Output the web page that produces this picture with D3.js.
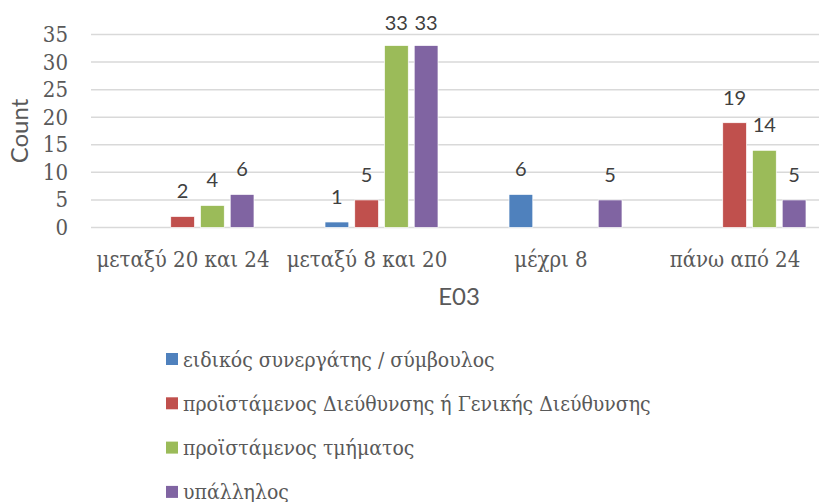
<!DOCTYPE html>
<html lang="el">
<head>
    <meta charset="utf-8" />
    <title>E03 Count</title>
    <script src="https://d3js.org/d3.v7.min.js"></script>
    <style>
        body { margin: 0; background: #fff; }
        svg { display: block; }
    </style>
</head>
<body>
    <script>
        // data
        const categories = ["μεταξύ 20 και 24", "μεταξύ 8 και 20", "μέχρι 8", "πάνω από 24"];
        const seriesNames = [
            "ειδικός συνεργάτης / σύμβουλος",
            "προϊστάμενος Διεύθυνσης ή Γενικής Διεύθυνσης",
            "προϊστάμενος τμήματος",
            "υπάλληλος"
        ];
        // null = no bar / no label
        const seriesValues = [
            [null, 1, 6, null],
            [2, 5, null, 19],
            [4, 33, null, 14],
            [6, 33, 5, 5]
        ];
        const yTicks = [0, 5, 10, 15, 20, 25, 30, 35];
        const colors = ["#4f81bd", "#c0504d", "#9bbb59", "#8064a2"];

        const width = 819, height = 502;
        // Cambria / Calibri stand-ins
        const serif = "DejaVu Serif Condensed";
        const sans = "Lato";
        const textColor = "#595959";

        const svg = d3.select("body")
            .append("svg")
            .attr("width", width)
            .attr("height", height);

        // scales
        const xScale = d3.scaleBand()
            .domain(categories)
            .range([91, 827]);

        const yScale = d3.scaleLinear()
            .domain([0, 35])
            .range([227.5, 34.5]);

        const inner = d3.scaleBand()
            .domain(d3.range(seriesNames.length))
            .range([0, 113])
            .paddingInner(0.2);

        // gridlines
        svg.append("g")
            .selectAll("line")
            .data(yTicks)
            .enter()
            .append("line")
            .attr("x1", 91)
            .attr("x2", width)
            .attr("y1", d => yScale(d))
            .attr("y2", d => yScale(d))
            .attr("stroke", "#d9d9d9")
            .attr("stroke-width", 1.5);

        // y axis
        const yAxis = d3.axisLeft(yScale).tickValues(yTicks).tickSize(0).tickPadding(0);
        const gy = svg.append("g")
            .attr("transform", "translate(68,0)")
            .call(yAxis);
        gy.select(".domain").remove();
        gy.selectAll("text")
            .attr("font-family", serif)
            .attr("font-size", 22)
            .attr("fill", textColor);

        // x axis
        const xAxis = d3.axisBottom(xScale).tickSize(0).tickPadding(0);
        const gx = svg.append("g")
            .attr("transform", "translate(0,227.5)")
            .call(xAxis);
        gx.select(".domain").remove();
        gx.selectAll("text")
            .attr("dy", null)
            .attr("y", 39)
            .attr("font-family", serif)
            .attr("font-size", 22)
            .attr("fill", textColor);

        // bars (the cluster sits a little right of the category centre)
        const groups = svg.selectAll(".series")
            .data(seriesValues)
            .enter()
            .append("g")
            .attr("class", "series");

        const groupLeft = c => xScale(c) + xScale.bandwidth() / 2 - 113 / 2 + 14.5;

        groups.each(function (vals, s) {
            const pts = categories.map((c, i) => ({ c: c, v: vals[i] })).filter(d => d.v !== null);
            const g = d3.select(this);
            g.selectAll("rect")
                .data(pts)
                .enter()
                .append("rect")
                .attr("x", d => groupLeft(d.c) + inner(s))
                .attr("y", d => yScale(d.v))
                .attr("width", inner.bandwidth())
                .attr("height", d => yScale(0) - yScale(d.v))
                .attr("fill", colors[s])
                .attr("stroke", "#fff")
                .attr("stroke-width", 0.7);
            g.selectAll("text")
                .data(pts)
                .enter()
                .append("text")
                .attr("x", d => groupLeft(d.c) + inner(s) + inner.bandwidth() / 2)
                .attr("y", d => Math.max(30, yScale(d.v) - 18))
                .attr("text-anchor", "middle")
                .attr("font-family", sans)
                .attr("font-size", 20)
                .attr("fill", "#404040")
                .text(d => d.v);
        });

        // axis titles
        svg.append("text")
            .attr("transform", "translate(28,131) rotate(-90)")
            .attr("text-anchor", "middle")
            .attr("font-family", sans)
            .attr("font-size", 24)
            .attr("fill", textColor)
            .text("Count");

        svg.append("text")
            .attr("x", 459)
            .attr("y", 305)
            .attr("text-anchor", "middle")
            .attr("font-family", sans)
            .attr("font-size", 24)
            .attr("fill", textColor)
            .text("E03");

        // legend
        const legend = svg.append("g")
            .selectAll("g")
            .data(seriesNames)
            .enter()
            .append("g")
            .attr("transform", (d, i) => "translate(166," + (359 + i * 44.3) + ")");
        legend.append("rect")
            .attr("x", 0)
            .attr("y", -6)
            .attr("width", 12)
            .attr("height", 12)
            .attr("fill", (d, i) => colors[i]);
        legend.append("text")
            .attr("x", 17)
            .attr("y", 7.5)
            .attr("font-family", serif)
            .attr("font-size", 21)
            .attr("fill", textColor)
            .text(d => d);
    </script>
</body>
</html>
